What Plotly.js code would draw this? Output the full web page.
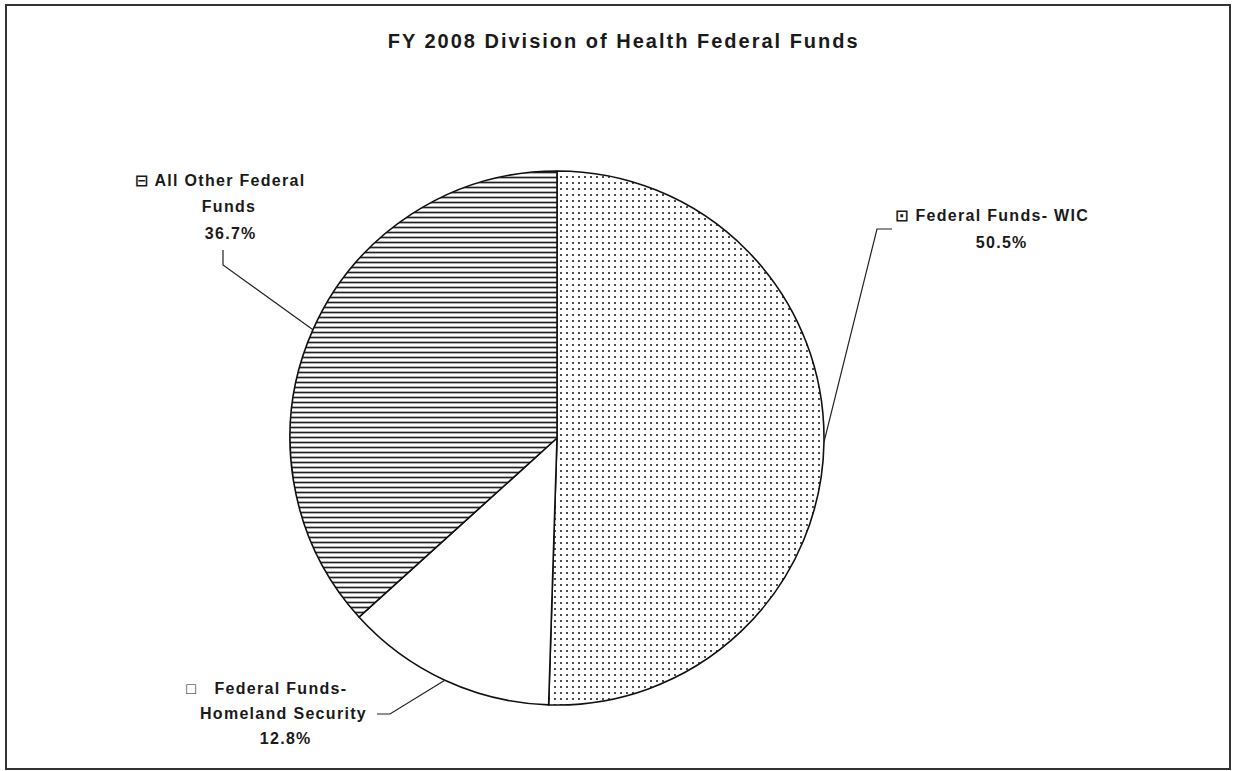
<!DOCTYPE html>
<html>
<head>
<meta charset="utf-8">
<script src="https://cdn.plot.ly/plotly-3.0.1.min.js"></script>
<style>
body { margin: 0; background: #fff; }
#pie-plot .annotation-text { letter-spacing: 1.3px; }
#pie-plot .gtitle { letter-spacing: 2px; }
</style>
</head>
<body>
<div id="pie-plot" style="width:1235px;height:771px;"></div>
<script>
// Slices, clockwise from 12 o'clock
var sliceNames = ["Federal Funds- WIC", "Federal Funds- Homeland Security", "All Other Federal Funds"];
var sliceValues = [50.5, 12.8, 36.7];

// Legend key glyph and the way each label is broken over lines
var keyGlyphs = ["\u22a1 ", "\u25a1\u00a0\u00a0 ", "\u229f "];
var labelLines = [
    ["Federal Funds- WIC"],
    ["Federal Funds-", "Homeland Security"],
    ["All Other Federal", "Funds"]
];

var W = 1235, H = 771;
// pie centre and radius in pixels
var cx = 557, cy = 438, r = 267;

// pixel -> paper
function px(x) { return x / W; }
function py(y) { return 1 - y / H; }

// label line centres (pixels), one per line plus the percent line
var labelPos = [
    [[992, 215], [1002, 242]],
    [[267, 688], [283, 713], [285, 738]],
    [[220, 180], [229, 207], [230, 233]]
];
// leader line start (pixels), the end is the slice middle on the rim
var leaderStart = [
    [[892, 229], [877, 229]],
    [[377, 714], [390, 714]],
    [[223, 250], [223, 265]]
];

var total = sliceValues.reduce((a, b) => a + b, 0);
var cum = 0;
var midFrac = sliceValues.map(v => { var m = (cum + v / 2) / total; cum += v; return m; });

var labelFont = { family: "Liberation Sans, Arial, DejaVu Sans", size: 16, color: "#1a1a1a", weight: "bold" };

var annotations = [];
var shapes = [];
sliceValues.forEach((v, i) => {
    var lines = labelLines[i].slice();
    lines[0] = keyGlyphs[i] + lines[0];
    lines.push(v.toFixed(1) + "%");
    lines.forEach((t, j) => {
        annotations.push({
            text: t, x: px(labelPos[i][j][0]), y: py(labelPos[i][j][1]),
            xref: "paper", yref: "paper", xanchor: "center", yanchor: "middle",
            showarrow: false, font: labelFont
        });
    });
    var a = midFrac[i] * 2 * Math.PI;
    var ex = cx + r * Math.sin(a), ey = cy - r * Math.cos(a);
    var pts = leaderStart[i].concat([[ex, ey]]);
    var path = pts.map((p, k) => (k ? "L" : "M") + px(p[0]) + "," + py(p[1])).join(" ");
    shapes.push({ type: "path", xref: "paper", yref: "paper", path: path, line: { color: "#222", width: 1.2 } });
});

// outer frame
shapes.push({ type: "rect", xref: "paper", yref: "paper", x0: px(6), x1: px(1230), y0: py(769), y1: py(5),
    line: { color: "#333", width: 2 } });

var trace = {
    type: "pie",
    labels: sliceNames,
    values: sliceValues,
    sort: false,
    direction: "clockwise",
    rotation: 0,
    textinfo: "none",
    hoverinfo: "label+percent",
    domain: { x: [px(cx - r), px(cx + r)], y: [py(cy + r), py(cy - r)] },
    marker: {
        colors: ["#ffffff", "#ffffff", "#ffffff"],
        line: { color: "#111", width: 1.6 },
        pattern: {
            shape: [".", "", "-"],
            fgcolor: ["#222", "#222", "#222"],
            bgcolor: ["#ffffff", "#ffffff", "#ffffff"],
            size: [6, 8, 5],
            solidity: [0.1, 0.3, 0.34],
            fillmode: "replace"
        }
    }
};

var layout = {
    width: W, height: H,
    margin: { l: 0, r: 0, t: 0, b: 0 },
    paper_bgcolor: "#fff",
    showlegend: false,
    title: {
        text: "FY 2008 Division of Health Federal Funds",
        x: 0.505, xanchor: "center", y: py(41), yanchor: "middle",
        font: { family: "Liberation Sans, Arial, DejaVu Sans", size: 20, color: "#1a1a1a", weight: "bold" }
    },
    annotations: annotations,
    shapes: shapes
};

Plotly.newPlot("pie-plot", [trace], layout, { staticPlot: true });
</script>
</body>
</html>
